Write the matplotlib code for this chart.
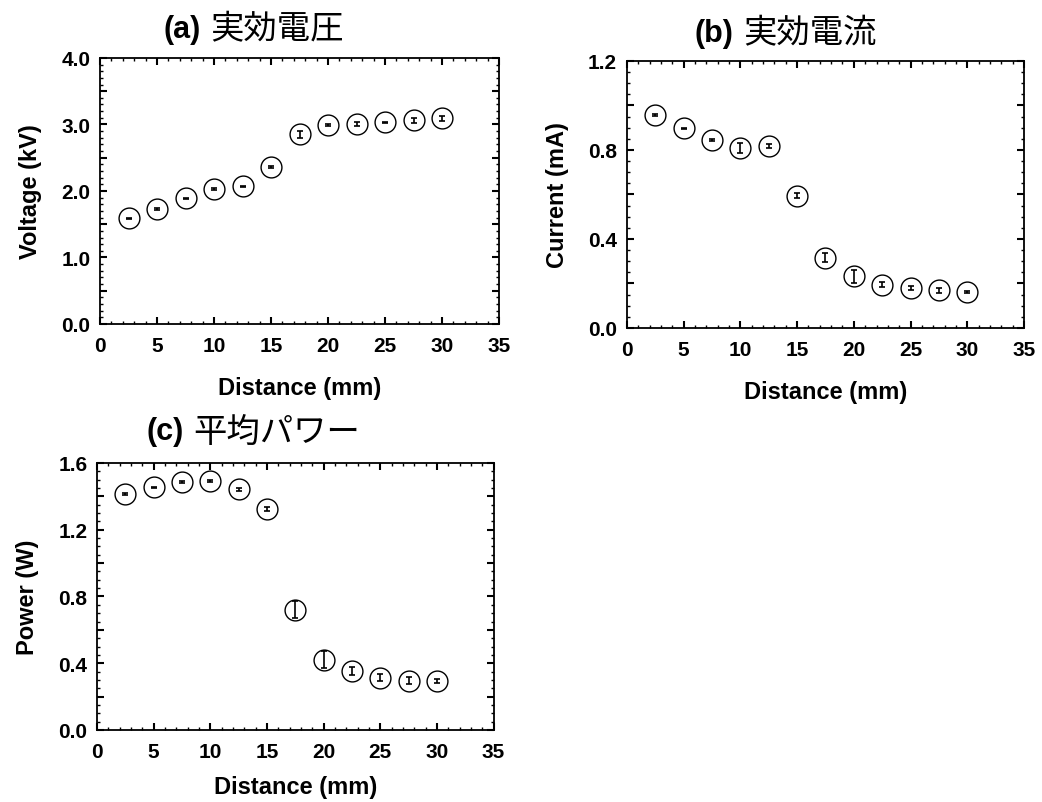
import matplotlib
matplotlib.use("Agg")
import matplotlib.pyplot as plt
from matplotlib.ticker import MultipleLocator, FuncFormatter

# data
distance = [2.5, 5, 7.5, 10, 12.5, 15, 17.5, 20, 22.5, 25, 27.5, 30]

voltage = [1.59, 1.73, 1.89, 2.03, 2.07, 2.36, 2.85, 2.99, 3.00, 3.03, 3.06, 3.09]
voltage_err = [0.01, 0.01, 0.01, 0.02, 0.01, 0.01, 0.05, 0.02, 0.03, 0.01, 0.04, 0.04]

current = [0.957, 0.897, 0.845, 0.810, 0.818, 0.595, 0.315, 0.232, 0.195, 0.180, 0.169, 0.162]
current_err = [0.003, 0.003, 0.003, 0.022, 0.01, 0.01, 0.02, 0.03, 0.01, 0.01, 0.01, 0.003]

power = [1.414, 1.454, 1.484, 1.494, 1.442, 1.324, 0.721, 0.421, 0.352, 0.314, 0.296, 0.294]
power_err = [0.005, 0.005, 0.005, 0.006, 0.01, 0.01, 0.05, 0.05, 0.025, 0.02, 0.02, 0.01]

xlabel = "Distance (mm)"
jp = ["Noto Sans CJK JP", "DejaVu Sans"]
lat = "Liberation Sans"

fig = plt.figure(figsize=(10.42, 8.03), dpi=100)


def setup(ax, y, err, ylim, ylab, ystep_lab, ystep_mid, ystep_minor, fmt, xpad=15):
    ax.errorbar(distance, y, yerr=err, fmt="none", ecolor="black", elinewidth=1.2, capsize=2, capthick=1.2)
    ax.plot(distance, y, "o", ms=15, mfc="none", mec="black", mew=1.0)
    ax.set_xlim(0, 35)
    ax.set_ylim(0, ylim)
    ax.xaxis.set_major_locator(MultipleLocator(5))
    ax.xaxis.set_minor_locator(MultipleLocator(1))
    ax.yaxis.set_major_locator(MultipleLocator(ystep_mid))
    ax.yaxis.set_minor_locator(MultipleLocator(ystep_minor))
    ratio = int(round(ystep_lab / ystep_mid))

    def yf(v, pos):
        k = int(round(v / ystep_mid))
        return fmt.format(v) if k % ratio == 0 else ""
    ax.yaxis.set_major_formatter(FuncFormatter(yf))
    ax.tick_params(which="both", direction="in", top=True, right=True)
    ax.tick_params(which="major", length=5, width=1.5)
    ax.tick_params(which="minor", length=2.5, width=1.0)
    ax.tick_params(axis="x", pad=9)
    ax.tick_params(axis="y", pad=7)
    for lb in ax.get_xticklabels() + ax.get_yticklabels():
        lb.set_fontfamily(lat)
        lb.set_fontweight("bold")
        lb.set_fontsize(15)
    for s in ax.spines.values():
        s.set_linewidth(1.3)
    ax.set_xlabel(xlabel, fontfamily=lat, fontweight="bold", fontsize=17, labelpad=xpad)
    ax.set_ylabel(ylab, fontfamily=lat, fontweight="bold", fontsize=17, labelpad=14)


def title(x, y, tag, jtext):
    fig.text(x, y, tag, fontfamily=lat, fontweight="bold", fontsize=22, ha="right", va="center")
    fig.text(x + 0.009, y, jtext, fontfamily=jp, fontsize=24, ha="left", va="center")


ax1 = fig.add_axes([0.0960, 0.5953, 0.3829, 0.3313])
setup(ax1, voltage, voltage_err, 4.0, "Voltage (kV)", 1.0, 0.5, 0.1, "{:.1f}")
ax2 = fig.add_axes([0.6017, 0.5903, 0.3810, 0.3325])
setup(ax2, current, current_err, 1.2, "Current (mA)", 0.4, 0.2, 0.05, "{:.1f}")
ax3 = fig.add_axes([0.0931, 0.0897, 0.3806, 0.3325])
setup(ax3, power, power_err, 1.6, "Power (W)", 0.4, 0.2, 0.05, "{:.1f}", xpad=10)

title(0.1930, 0.963, "(a)", "実効電圧")
title(0.7040, 0.958, "(b)", "実効電流")
title(0.1760, 0.462, "(c)", "平均パワー")

fig.savefig("out.png", dpi=100)
